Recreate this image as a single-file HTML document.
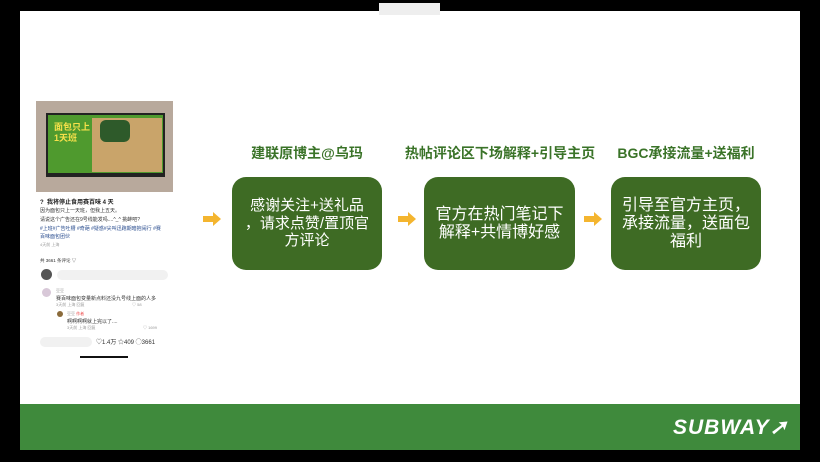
<!DOCTYPE html>
<html><head><meta charset="utf-8">
<style>
*{margin:0;padding:0;box-sizing:border-box}
body{width:820px;height:462px;background:#000;position:relative;overflow:hidden;font-family:"Liberation Sans","Noto Sans CJK SC",sans-serif}
.slide{position:absolute;left:20px;top:11px;width:780px;height:439px;background:#fff}
.bar{position:absolute;left:20px;top:404px;width:780px;height:46px;background:#3f8a3c}
.tab{position:absolute;left:379px;top:3px;width:61px;height:12px;background:#eeeeee}
.hd{position:absolute;top:143px;font-weight:bold;font-size:14px;color:#3a7328;text-align:center;white-space:nowrap}
.box{position:absolute;top:177px;height:93px;background:#3e6b24;border-radius:14px;color:#fff;font-size:16px;line-height:18px;display:flex;align-items:center;justify-content:center;text-align:center;white-space:nowrap}
.arr{position:absolute;top:211px}
.ph{position:absolute;font-size:5px;color:#333;white-space:nowrap}
.logo{position:absolute;left:673px;top:415px;font-size:21px;font-weight:bold;font-style:italic;color:#fff;letter-spacing:1px}
</style></head><body>
<div class="slide"></div>
<div class="tab"></div>
<div class="bar"></div>

<div style="position:absolute;left:36px;top:101px;width:137px;height:91px;background:#b8a99c"></div>
<div style="position:absolute;left:46px;top:113px;width:119px;height:64px;background:#222"></div>
<div style="position:absolute;left:48px;top:115px;width:115px;height:58px;background:#4f9a2e"></div>
<div style="position:absolute;left:92px;top:118px;width:70px;height:54px;background:#c9a46a"></div>
<div style="position:absolute;left:100px;top:120px;width:30px;height:22px;background:#2e5a2a;border-radius:6px"></div>
<div style="position:absolute;left:54px;top:122px;font-size:9px;font-weight:bold;color:#f6e04a;line-height:11px">面包只上<br>1天班</div>
<div class="ph" style="left:40px;top:197px;font-size:6px;font-weight:bold;color:#222">?&nbsp; 我将停止食用赛百味 4 天</div>
<div class="ph" style="left:40px;top:207px">因为面包只上一天班，但我上五天。</div>
<div class="ph" style="left:40px;top:216px">请说这个广告还在9号线能发吗....^_^ 挑衅吧?</div>
<div class="ph" style="left:40px;top:225px;color:#2a4d8f">#上班#广告吐槽 #奇葩 #疑惑#尖叫迅跑期暗抱闹行 #赛</div>
<div class="ph" style="left:40px;top:233px;color:#2a4d8f">百味面包团伙</div>
<div class="ph" style="left:40px;top:242px;color:#999;font-size:4px">4天前 上海</div>
<div class="ph" style="left:40px;top:258px;font-size:4.5px">共 3661 条评论 ▽</div>
<div style="position:absolute;left:41px;top:269px;width:11px;height:11px;border-radius:50%;background:#555"></div>
<div style="position:absolute;left:57px;top:270px;width:111px;height:10px;border-radius:5px;background:#f1f1f1"></div>
<div style="position:absolute;left:42px;top:288px;width:9px;height:9px;border-radius:50%;background:#d8c8d8"></div>
<div class="ph" style="left:56px;top:288px;color:#999;font-size:4px">豆豆</div>
<div class="ph" style="left:56px;top:295px">赛百味面包变量新点料还没九号线上面的人多</div>
<div class="ph" style="left:56px;top:302px;color:#999;font-size:4px">3天前 上海 回复</div>
<div class="ph" style="left:132px;top:302px;color:#999;font-size:4px">♡ 58</div>
<div style="position:absolute;left:57px;top:311px;width:6px;height:6px;border-radius:50%;background:#8a6a3a"></div>
<div class="ph" style="left:67px;top:311px;color:#999;font-size:4px">豆豆 <span style="color:#e44">作者</span></div>
<div class="ph" style="left:67px;top:318px">啊啊啊啊就上完以了....</div>
<div class="ph" style="left:67px;top:325px;color:#999;font-size:4px">3天前 上海 回复</div>
<div class="ph" style="left:143px;top:325px;color:#999;font-size:4px">♡ 1699</div>
<div style="position:absolute;left:40px;top:337px;width:52px;height:10px;border-radius:5px;background:#f1f1f1"></div>
<div class="ph" style="left:96px;top:337px;font-size:6px">♡1.4万 ☆409 ◯3661</div>
<div style="position:absolute;left:80px;top:356px;width:48px;height:2px;background:#111"></div>

<div class="hd" style="left:232px;width:150px">建联原博主@乌玛</div>
<div class="hd" style="left:400px;width:200px">热帖评论区下场解释+引导主页</div>
<div class="hd" style="left:611px;width:150px">BGC承接流量+送福利</div>

<svg class="arr" style="left:203px" width="20" height="16"><path d="M0 5h10V1l8 7-8 7v-4H0z" fill="#f4b52f"/></svg>
<svg class="arr" style="left:398px" width="20" height="16"><path d="M0 5h10V1l8 7-8 7v-4H0z" fill="#f4b52f"/></svg>
<svg class="arr" style="left:584px" width="20" height="16"><path d="M0 5h10V1l8 7-8 7v-4H0z" fill="#f4b52f"/></svg>

<div class="box" style="left:232px;width:150px;font-size:15px;line-height:17.5px">感谢关注+送礼品<br>，请求点赞/置顶官<br>方评论</div>
<div class="box" style="left:424px;width:151px">官方在热门笔记下<br>解释+共情博好感</div>
<div class="box" style="left:611px;width:150px">引导至官方主页，<br>承接流量，送面包<br>福利</div>

<div class="logo">SUBWAY➚</div>
</body></html>
